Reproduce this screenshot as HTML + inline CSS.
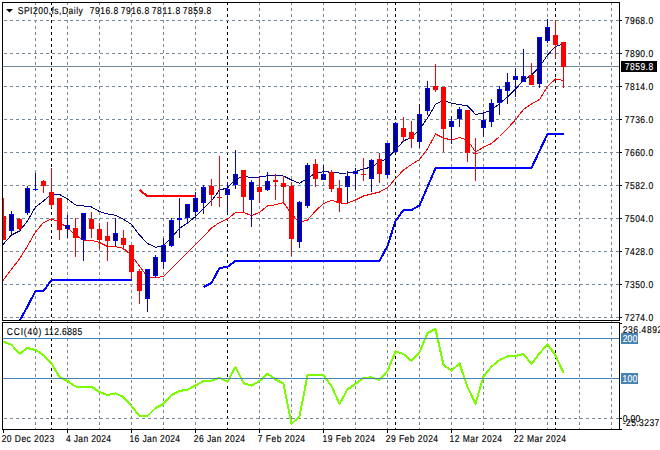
<!DOCTYPE html><html><head><meta charset="utf-8"><style>html,body{margin:0;padding:0;background:#fff;}body{width:660px;height:450px;position:relative;overflow:hidden;}text{white-space:pre;}</style></head><body><svg width="660" height="450" viewBox="0 0 660 450" style="position:absolute;left:0;top:0" shape-rendering="crispEdges">
<defs><clipPath id="cm"><rect x="3" y="3" width="616" height="317"/></clipPath><clipPath id="cv"><rect x="3" y="3" width="616" height="426"/></clipPath><clipPath id="cc"><rect x="3" y="323" width="616" height="106"/></clipPath></defs>
<g clip-path="url(#cv)">
<line x1="35.5" y1="2" x2="35.5" y2="429" stroke="#778899" stroke-width="1" stroke-dasharray="3 3" stroke-dashoffset="0"/>
<line x1="67.5" y1="2" x2="67.5" y2="429" stroke="#778899" stroke-width="1" stroke-dasharray="3 3" stroke-dashoffset="0"/>
<line x1="99.5" y1="2" x2="99.5" y2="429" stroke="#778899" stroke-width="1" stroke-dasharray="3 3" stroke-dashoffset="0"/>
<line x1="131.5" y1="2" x2="131.5" y2="429" stroke="#778899" stroke-width="1" stroke-dasharray="3 3" stroke-dashoffset="0"/>
<line x1="163.5" y1="2" x2="163.5" y2="429" stroke="#778899" stroke-width="1" stroke-dasharray="3 3" stroke-dashoffset="0"/>
<line x1="195.5" y1="2" x2="195.5" y2="429" stroke="#778899" stroke-width="1" stroke-dasharray="3 3" stroke-dashoffset="0"/>
<line x1="259.5" y1="2" x2="259.5" y2="429" stroke="#778899" stroke-width="1" stroke-dasharray="3 3" stroke-dashoffset="0"/>
<line x1="291.5" y1="2" x2="291.5" y2="429" stroke="#778899" stroke-width="1" stroke-dasharray="3 3" stroke-dashoffset="0"/>
<line x1="323.5" y1="2" x2="323.5" y2="429" stroke="#778899" stroke-width="1" stroke-dasharray="3 3" stroke-dashoffset="0"/>
<line x1="355.5" y1="2" x2="355.5" y2="429" stroke="#778899" stroke-width="1" stroke-dasharray="3 3" stroke-dashoffset="0"/>
<line x1="387.5" y1="2" x2="387.5" y2="429" stroke="#778899" stroke-width="1" stroke-dasharray="3 3" stroke-dashoffset="0"/>
<line x1="419.5" y1="2" x2="419.5" y2="429" stroke="#778899" stroke-width="1" stroke-dasharray="3 3" stroke-dashoffset="0"/>
<line x1="451.5" y1="2" x2="451.5" y2="429" stroke="#778899" stroke-width="1" stroke-dasharray="3 3" stroke-dashoffset="0"/>
<line x1="483.5" y1="2" x2="483.5" y2="429" stroke="#778899" stroke-width="1" stroke-dasharray="3 3" stroke-dashoffset="0"/>
<line x1="515.5" y1="2" x2="515.5" y2="429" stroke="#778899" stroke-width="1" stroke-dasharray="3 3" stroke-dashoffset="0"/>
<line x1="547.5" y1="2" x2="547.5" y2="429" stroke="#778899" stroke-width="1" stroke-dasharray="3 3" stroke-dashoffset="0"/>
<line x1="579.5" y1="2" x2="579.5" y2="429" stroke="#778899" stroke-width="1" stroke-dasharray="3 3" stroke-dashoffset="0"/>
<line x1="611.5" y1="2" x2="611.5" y2="429" stroke="#778899" stroke-width="1" stroke-dasharray="3 3" stroke-dashoffset="0"/>
<line x1="51.5" y1="2" x2="51.5" y2="429" stroke="#000" stroke-width="1" stroke-dasharray="3 3" stroke-dashoffset="0"/>
<line x1="227.5" y1="2" x2="227.5" y2="429" stroke="#000" stroke-width="1" stroke-dasharray="3 3" stroke-dashoffset="0"/>
<line x1="395.5" y1="2" x2="395.5" y2="429" stroke="#000" stroke-width="1" stroke-dasharray="3 3" stroke-dashoffset="0"/>
<line x1="555.5" y1="2" x2="555.5" y2="429" stroke="#000" stroke-width="1" stroke-dasharray="3 3" stroke-dashoffset="0"/>
</g>
<g clip-path="url(#cm)">
<line x1="4" y1="20.5" x2="619" y2="20.5" stroke="#778899" stroke-width="1" stroke-dasharray="3 3" stroke-dashoffset="0"/>
<line x1="4" y1="53.5" x2="619" y2="53.5" stroke="#778899" stroke-width="1" stroke-dasharray="3 3" stroke-dashoffset="0"/>
<line x1="4" y1="86.5" x2="619" y2="86.5" stroke="#778899" stroke-width="1" stroke-dasharray="3 3" stroke-dashoffset="0"/>
<line x1="4" y1="119.5" x2="619" y2="119.5" stroke="#778899" stroke-width="1" stroke-dasharray="3 3" stroke-dashoffset="0"/>
<line x1="4" y1="152.5" x2="619" y2="152.5" stroke="#778899" stroke-width="1" stroke-dasharray="3 3" stroke-dashoffset="0"/>
<line x1="4" y1="185.5" x2="619" y2="185.5" stroke="#778899" stroke-width="1" stroke-dasharray="3 3" stroke-dashoffset="0"/>
<line x1="4" y1="218.5" x2="619" y2="218.5" stroke="#778899" stroke-width="1" stroke-dasharray="3 3" stroke-dashoffset="0"/>
<line x1="4" y1="251.5" x2="619" y2="251.5" stroke="#778899" stroke-width="1" stroke-dasharray="3 3" stroke-dashoffset="0"/>
<line x1="4" y1="284.5" x2="619" y2="284.5" stroke="#778899" stroke-width="1" stroke-dasharray="3 3" stroke-dashoffset="0"/>
<line x1="4" y1="317.5" x2="619" y2="317.5" stroke="#778899" stroke-width="1" stroke-dasharray="3 3" stroke-dashoffset="0"/>
<line x1="2" y1="66.5" x2="619" y2="66.5" stroke="#778899" stroke-width="1"/>
</g>
<g clip-path="url(#cc)">
<line x1="4" y1="418.5" x2="619" y2="418.5" stroke="#778899" stroke-width="1" stroke-dasharray="3 3" stroke-dashoffset="0"/>
</g>
<g clip-path="url(#cm)">
<polyline points="-4.5,291.5 3.5,280.0 11.5,269.0 19.5,259.0 27.5,246.0 35.5,232.0 43.5,222.5 51.5,219.0 59.5,222.0 67.5,228.0 75.5,235.0 83.5,240.5 91.5,240.3 99.5,242.5 107.5,246.5 115.5,246.6 123.5,248.3 131.5,255.5 139.5,266.0 147.5,277.0 155.5,278.0 163.5,276.3 171.5,268.4 179.5,260.5 187.5,252.6 195.5,244.5 203.5,236.5 211.5,228.0 219.5,222.5 227.5,219.0 235.5,212.5 243.5,212.3 251.5,215.7 259.5,212.3 267.5,206.0 275.5,204.7 283.5,202.5 291.5,214.0 299.5,222.5 307.5,220.0 315.5,211.0 323.5,203.5 331.5,200.3 339.5,203.0 347.5,203.1 355.5,200.0 363.5,196.0 371.5,194.0 379.5,192.0 387.5,187.8 395.5,178.5 403.5,170.0 411.5,164.5 419.5,159.5 427.5,149.0 435.5,134.0 443.5,138.0 451.5,140.0 459.5,137.5 467.5,140.0 475.5,152.0 483.5,147.3 491.5,143.5 499.5,136.5 507.5,128.5 515.5,119.7 523.5,109.5 531.5,104.0 539.5,99.5 547.5,86.5 555.5,79.0 563.5,80.5" fill="none" stroke="#FF0000" stroke-width="1" stroke-linejoin="round"/>
<polyline points="-4.5,253.5 3.5,244.0 11.5,235.0 19.5,231.0 27.5,221.0 35.5,207.0 43.5,201.0 51.5,194.0 59.5,194.5 67.5,199.0 75.5,205.0 83.5,206.0 91.5,207.0 99.5,211.5 107.5,214.0 115.5,215.3 123.5,219.3 131.5,224.5 139.5,235.0 147.5,243.5 155.5,247.3 163.5,245.5 171.5,237.5 179.5,228.5 187.5,223.0 195.5,216.5 203.5,208.5 211.5,200.8 219.5,190.0 227.5,188.0 235.5,179.0 243.5,176.5 251.5,177.4 259.5,177.0 267.5,175.8 275.5,175.8 283.5,176.0 291.5,180.0 299.5,183.3 307.5,178.4 315.5,173.0 323.5,171.7 331.5,172.2 339.5,173.1 347.5,173.0 355.5,171.5 363.5,169.0 371.5,167.0 379.5,162.0 387.5,158.3 395.5,150.0 403.5,141.0 411.5,137.2 419.5,129.3 427.5,118.0 435.5,104.5 443.5,100.0 451.5,103.3 459.5,104.6 467.5,106.0 475.5,114.3 483.5,113.2 491.5,109.8 499.5,103.6 507.5,97.0 515.5,89.0 523.5,80.5 531.5,75.0 539.5,67.0 547.5,55.0 555.5,46.5 563.5,44.0" fill="none" stroke="#000080" stroke-width="1" stroke-linejoin="round"/>
<polyline points="11.5,340.0 19.5,321.0 27.5,306.5 35.5,291.0 43.5,291.0 51.5,280.0 59.5,280.0 67.5,280.0 75.5,280.0 83.5,280.0 91.5,280.0 99.5,280.0 107.5,280.0 115.5,280.0 123.5,280.0 131.5,280.0" fill="none" stroke="#0000FF" stroke-width="2" stroke-linejoin="round"/>
<polyline points="139.5,190.0 147.5,196.0 155.5,196.0 163.5,196.0 171.5,196.0 179.5,196.0 187.5,196.0 195.5,196.0" fill="none" stroke="#FF0000" stroke-width="2" stroke-linejoin="round"/>
<polyline points="203.5,287.0 211.5,283.0 219.5,268.0 227.5,267.0 235.5,261.0 243.5,261.0 251.5,261.0 259.5,261.0 267.5,261.0 275.5,261.0 283.5,261.0 291.5,261.0 299.5,261.0 307.5,261.0 315.5,261.0 323.5,261.0 331.5,261.0 339.5,261.0 347.5,261.0 355.5,261.0 363.5,261.0 371.5,261.0 379.5,261.0 387.5,246.0 395.5,221.0 403.5,210.0 411.5,210.0 419.5,205.5 427.5,187.0 435.5,168.0 443.5,168.0 451.5,168.0 459.5,168.0 467.5,168.0 475.5,168.0 483.5,168.0 491.5,168.0 499.5,168.0 507.5,168.0 515.5,168.0 523.5,168.0 531.5,168.0 539.5,151.0 547.5,134.0 555.5,134.0 563.5,134.0" fill="none" stroke="#0000FF" stroke-width="2" stroke-linejoin="round"/>
</g>
<g clip-path="url(#cm)">
<rect x="3" y="198" width="1" height="42" fill="#FF0000"/>
<rect x="1" y="216" width="5" height="24" fill="#FF0000"/>
<rect x="11" y="211" width="1" height="23" fill="#0000FF"/>
<rect x="9" y="214" width="5" height="17" fill="#0000FF"/>
<rect x="10" y="215" width="3" height="15" fill="#000080"/>
<rect x="19" y="218" width="1" height="13" fill="#FF0000"/>
<rect x="17" y="219" width="5" height="10" fill="#FF0000"/>
<rect x="27" y="186" width="1" height="29" fill="#0000FF"/>
<rect x="25" y="188" width="5" height="25" fill="#0000FF"/>
<rect x="26" y="189" width="3" height="23" fill="#000080"/>
<rect x="35" y="173" width="1" height="18" fill="#0000FF"/>
<rect x="33" y="189" width="5" height="1" fill="#0000FF"/>
<rect x="43" y="180" width="1" height="13" fill="#FF0000"/>
<rect x="41" y="181" width="5" height="5" fill="#FF0000"/>
<rect x="51" y="168" width="1" height="40" fill="#FF0000"/>
<rect x="49" y="192" width="5" height="13" fill="#FF0000"/>
<rect x="59" y="198" width="1" height="42" fill="#FF0000"/>
<rect x="57" y="198" width="5" height="32" fill="#FF0000"/>
<rect x="67" y="215" width="1" height="23" fill="#0000FF"/>
<rect x="65" y="225" width="5" height="4" fill="#0000FF"/>
<rect x="66" y="226" width="3" height="2" fill="#000080"/>
<rect x="75" y="218" width="1" height="39" fill="#FF0000"/>
<rect x="73" y="228" width="5" height="10" fill="#FF0000"/>
<rect x="83" y="213" width="1" height="48" fill="#0000FF"/>
<rect x="81" y="213" width="5" height="27" fill="#0000FF"/>
<rect x="82" y="214" width="3" height="25" fill="#000080"/>
<rect x="91" y="212" width="1" height="26" fill="#FF0000"/>
<rect x="89" y="219" width="5" height="10" fill="#FF0000"/>
<rect x="99" y="223" width="1" height="26" fill="#FF0000"/>
<rect x="97" y="229" width="5" height="11" fill="#FF0000"/>
<rect x="107" y="222" width="1" height="39" fill="#FF0000"/>
<rect x="105" y="236" width="5" height="5" fill="#FF0000"/>
<rect x="115" y="218" width="1" height="28" fill="#0000FF"/>
<rect x="113" y="233" width="5" height="8" fill="#0000FF"/>
<rect x="114" y="234" width="3" height="6" fill="#000080"/>
<rect x="123" y="230" width="1" height="20" fill="#FF0000"/>
<rect x="121" y="238" width="5" height="7" fill="#FF0000"/>
<rect x="131" y="245" width="1" height="34" fill="#FF0000"/>
<rect x="129" y="245" width="5" height="27" fill="#FF0000"/>
<rect x="139" y="269" width="1" height="35" fill="#FF0000"/>
<rect x="137" y="271" width="5" height="20" fill="#FF0000"/>
<rect x="147" y="269" width="1" height="43" fill="#0000FF"/>
<rect x="145" y="269" width="5" height="30" fill="#0000FF"/>
<rect x="146" y="270" width="3" height="28" fill="#000080"/>
<rect x="155" y="255" width="1" height="23" fill="#0000FF"/>
<rect x="153" y="257" width="5" height="19" fill="#0000FF"/>
<rect x="154" y="258" width="3" height="17" fill="#000080"/>
<rect x="163" y="238" width="1" height="31" fill="#0000FF"/>
<rect x="161" y="245" width="5" height="17" fill="#0000FF"/>
<rect x="162" y="246" width="3" height="15" fill="#000080"/>
<rect x="171" y="218" width="1" height="29" fill="#0000FF"/>
<rect x="169" y="220" width="5" height="26" fill="#0000FF"/>
<rect x="170" y="221" width="3" height="24" fill="#000080"/>
<rect x="179" y="198" width="1" height="40" fill="#0000FF"/>
<rect x="177" y="218" width="5" height="2" fill="#0000FF"/>
<rect x="187" y="204" width="1" height="20" fill="#0000FF"/>
<rect x="185" y="204" width="5" height="14" fill="#0000FF"/>
<rect x="186" y="205" width="3" height="12" fill="#000080"/>
<rect x="195" y="192" width="1" height="26" fill="#0000FF"/>
<rect x="193" y="198" width="5" height="14" fill="#0000FF"/>
<rect x="194" y="199" width="3" height="12" fill="#000080"/>
<rect x="203" y="185" width="1" height="29" fill="#0000FF"/>
<rect x="201" y="187" width="5" height="16" fill="#0000FF"/>
<rect x="202" y="188" width="3" height="14" fill="#000080"/>
<rect x="211" y="179" width="1" height="27" fill="#FF0000"/>
<rect x="209" y="186" width="5" height="9" fill="#FF0000"/>
<rect x="219" y="156" width="1" height="51" fill="#FF0000"/>
<rect x="217" y="197" width="5" height="1" fill="#FF0000"/>
<rect x="227" y="182" width="1" height="31" fill="#0000FF"/>
<rect x="225" y="189" width="5" height="6" fill="#0000FF"/>
<rect x="226" y="190" width="3" height="4" fill="#000080"/>
<rect x="235" y="150" width="1" height="39" fill="#0000FF"/>
<rect x="233" y="174" width="5" height="11" fill="#0000FF"/>
<rect x="234" y="175" width="3" height="9" fill="#000080"/>
<rect x="243" y="170" width="1" height="42" fill="#FF0000"/>
<rect x="241" y="170" width="5" height="27" fill="#FF0000"/>
<rect x="251" y="180" width="1" height="47" fill="#0000FF"/>
<rect x="249" y="182" width="5" height="18" fill="#0000FF"/>
<rect x="250" y="183" width="3" height="16" fill="#000080"/>
<rect x="259" y="177" width="1" height="26" fill="#FF0000"/>
<rect x="257" y="187" width="5" height="5" fill="#FF0000"/>
<rect x="267" y="172" width="1" height="19" fill="#0000FF"/>
<rect x="265" y="181" width="5" height="9" fill="#0000FF"/>
<rect x="266" y="182" width="3" height="7" fill="#000080"/>
<rect x="275" y="174" width="1" height="26" fill="#FF0000"/>
<rect x="273" y="180" width="5" height="2" fill="#FF0000"/>
<rect x="283" y="176" width="1" height="28" fill="#FF0000"/>
<rect x="281" y="183" width="5" height="4" fill="#FF0000"/>
<rect x="291" y="182" width="1" height="74" fill="#FF0000"/>
<rect x="289" y="186" width="5" height="53" fill="#FF0000"/>
<rect x="299" y="201" width="1" height="47" fill="#0000FF"/>
<rect x="297" y="202" width="5" height="40" fill="#0000FF"/>
<rect x="298" y="203" width="3" height="38" fill="#000080"/>
<rect x="307" y="163" width="1" height="45" fill="#0000FF"/>
<rect x="305" y="165" width="5" height="41" fill="#0000FF"/>
<rect x="306" y="166" width="3" height="39" fill="#000080"/>
<rect x="315" y="159" width="1" height="28" fill="#FF0000"/>
<rect x="313" y="164" width="5" height="15" fill="#FF0000"/>
<rect x="323" y="165" width="1" height="15" fill="#0000FF"/>
<rect x="321" y="174" width="5" height="6" fill="#0000FF"/>
<rect x="322" y="175" width="3" height="4" fill="#000080"/>
<rect x="331" y="170" width="1" height="22" fill="#FF0000"/>
<rect x="329" y="172" width="5" height="17" fill="#FF0000"/>
<rect x="339" y="180" width="1" height="32" fill="#FF0000"/>
<rect x="337" y="188" width="5" height="15" fill="#FF0000"/>
<rect x="347" y="171" width="1" height="32" fill="#0000FF"/>
<rect x="345" y="176" width="5" height="11" fill="#0000FF"/>
<rect x="346" y="177" width="3" height="9" fill="#000080"/>
<rect x="355" y="168" width="1" height="22" fill="#0000FF"/>
<rect x="353" y="171" width="5" height="3" fill="#0000FF"/>
<rect x="354" y="172" width="3" height="1" fill="#000080"/>
<rect x="363" y="158" width="1" height="23" fill="#FF0000"/>
<rect x="361" y="174" width="5" height="1" fill="#FF0000"/>
<rect x="371" y="159" width="1" height="33" fill="#0000FF"/>
<rect x="369" y="160" width="5" height="19" fill="#0000FF"/>
<rect x="370" y="161" width="3" height="17" fill="#000080"/>
<rect x="379" y="153" width="1" height="30" fill="#FF0000"/>
<rect x="377" y="159" width="5" height="15" fill="#FF0000"/>
<rect x="387" y="143" width="1" height="35" fill="#0000FF"/>
<rect x="385" y="143" width="5" height="32" fill="#0000FF"/>
<rect x="386" y="144" width="3" height="30" fill="#000080"/>
<rect x="395" y="122" width="1" height="31" fill="#0000FF"/>
<rect x="393" y="123" width="5" height="29" fill="#0000FF"/>
<rect x="394" y="124" width="3" height="27" fill="#000080"/>
<rect x="403" y="117" width="1" height="25" fill="#FF0000"/>
<rect x="401" y="128" width="5" height="9" fill="#FF0000"/>
<rect x="411" y="121" width="1" height="27" fill="#FF0000"/>
<rect x="409" y="132" width="5" height="7" fill="#FF0000"/>
<rect x="419" y="104" width="1" height="44" fill="#0000FF"/>
<rect x="417" y="114" width="5" height="28" fill="#0000FF"/>
<rect x="418" y="115" width="3" height="26" fill="#000080"/>
<rect x="427" y="81" width="1" height="34" fill="#0000FF"/>
<rect x="425" y="88" width="5" height="23" fill="#0000FF"/>
<rect x="426" y="89" width="3" height="21" fill="#000080"/>
<rect x="435" y="64" width="1" height="28" fill="#FF0000"/>
<rect x="433" y="86" width="5" height="4" fill="#FF0000"/>
<rect x="443" y="87" width="1" height="65" fill="#FF0000"/>
<rect x="441" y="87" width="5" height="42" fill="#FF0000"/>
<rect x="451" y="116" width="1" height="28" fill="#0000FF"/>
<rect x="449" y="121" width="5" height="6" fill="#0000FF"/>
<rect x="450" y="122" width="3" height="4" fill="#000080"/>
<rect x="459" y="107" width="1" height="20" fill="#0000FF"/>
<rect x="457" y="109" width="5" height="10" fill="#0000FF"/>
<rect x="458" y="110" width="3" height="8" fill="#000080"/>
<rect x="467" y="110" width="1" height="52" fill="#FF0000"/>
<rect x="465" y="110" width="5" height="43" fill="#FF0000"/>
<rect x="475" y="138" width="1" height="43" fill="#FF0000"/>
<rect x="473" y="153" width="5" height="1" fill="#FF0000"/>
<rect x="483" y="112" width="1" height="25" fill="#0000FF"/>
<rect x="481" y="120" width="5" height="8" fill="#0000FF"/>
<rect x="482" y="121" width="3" height="6" fill="#000080"/>
<rect x="491" y="99" width="1" height="28" fill="#0000FF"/>
<rect x="489" y="103" width="5" height="19" fill="#0000FF"/>
<rect x="490" y="104" width="3" height="17" fill="#000080"/>
<rect x="499" y="86" width="1" height="29" fill="#0000FF"/>
<rect x="497" y="89" width="5" height="14" fill="#0000FF"/>
<rect x="498" y="90" width="3" height="12" fill="#000080"/>
<rect x="507" y="73" width="1" height="31" fill="#0000FF"/>
<rect x="505" y="82" width="5" height="9" fill="#0000FF"/>
<rect x="506" y="83" width="3" height="7" fill="#000080"/>
<rect x="515" y="68" width="1" height="29" fill="#0000FF"/>
<rect x="513" y="76" width="5" height="4" fill="#0000FF"/>
<rect x="514" y="77" width="3" height="2" fill="#000080"/>
<rect x="523" y="49" width="1" height="33" fill="#0000FF"/>
<rect x="521" y="76" width="5" height="6" fill="#0000FF"/>
<rect x="522" y="77" width="3" height="4" fill="#000080"/>
<rect x="531" y="63" width="1" height="22" fill="#FF0000"/>
<rect x="529" y="75" width="5" height="10" fill="#FF0000"/>
<rect x="539" y="37" width="1" height="51" fill="#0000FF"/>
<rect x="537" y="37" width="5" height="47" fill="#0000FF"/>
<rect x="538" y="38" width="3" height="45" fill="#000080"/>
<rect x="547" y="19" width="1" height="24" fill="#0000FF"/>
<rect x="545" y="27" width="5" height="14" fill="#0000FF"/>
<rect x="546" y="28" width="3" height="12" fill="#000080"/>
<rect x="555" y="20" width="1" height="39" fill="#FF0000"/>
<rect x="553" y="35" width="5" height="10" fill="#FF0000"/>
<rect x="563" y="42" width="1" height="46" fill="#FF0000"/>
<rect x="561" y="42" width="5" height="25" fill="#FF0000"/>
</g>
<g clip-path="url(#cc)">
<polyline points="-4.5,339.0 3.5,341.7 11.5,344.8 19.5,354.0 27.5,348.0 35.5,350.0 43.5,355.0 51.5,363.4 59.5,377.0 67.5,381.0 75.5,386.5 83.5,386.7 91.5,386.7 99.5,392.0 107.5,395.0 115.5,393.4 123.5,397.0 131.5,406.0 139.5,416.0 147.5,416.0 155.5,408.0 163.5,404.0 171.5,395.0 179.5,391.0 187.5,389.7 195.5,385.5 203.5,381.0 211.5,380.7 219.5,377.7 227.5,381.7 235.5,366.8 243.5,383.2 251.5,385.6 259.5,381.0 267.5,373.8 275.5,379.4 283.5,383.6 291.5,423.8 299.5,416.5 307.5,375.2 315.5,375.2 323.5,375.3 331.5,386.0 339.5,404.0 347.5,389.3 355.5,384.0 363.5,378.0 371.5,377.3 379.5,380.0 387.5,371.0 395.5,351.5 403.5,354.0 411.5,361.0 419.5,352.3 427.5,333.0 435.5,329.0 443.5,365.0 451.5,370.6 459.5,363.5 467.5,387.0 475.5,403.6 483.5,376.4 491.5,366.7 499.5,360.0 507.5,356.5 515.5,356.0 523.5,354.0 531.5,364.0 539.5,353.5 547.5,344.0 555.5,355.5 563.5,372.7" fill="none" stroke="#7CFC00" stroke-width="2" stroke-linejoin="round"/>
<line x1="2" y1="338.5" x2="619" y2="338.5" stroke="#4682B4" stroke-width="1"/>
<line x1="2" y1="378.5" x2="619" y2="378.5" stroke="#4682B4" stroke-width="1"/>
</g>
<rect x="2.5" y="2.5" width="617" height="318" fill="none" stroke="#000" stroke-width="1"/>
<rect x="2.5" y="322.5" width="617" height="107" fill="none" stroke="#000" stroke-width="1"/>
<line x1="619" y1="20.5" x2="622" y2="20.5" stroke="#000" stroke-width="1"/>
<line x1="619" y1="53.5" x2="622" y2="53.5" stroke="#000" stroke-width="1"/>
<line x1="619" y1="86.5" x2="622" y2="86.5" stroke="#000" stroke-width="1"/>
<line x1="619" y1="119.5" x2="622" y2="119.5" stroke="#000" stroke-width="1"/>
<line x1="619" y1="152.5" x2="622" y2="152.5" stroke="#000" stroke-width="1"/>
<line x1="619" y1="185.5" x2="622" y2="185.5" stroke="#000" stroke-width="1"/>
<line x1="619" y1="218.5" x2="622" y2="218.5" stroke="#000" stroke-width="1"/>
<line x1="619" y1="251.5" x2="622" y2="251.5" stroke="#000" stroke-width="1"/>
<line x1="619" y1="284.5" x2="622" y2="284.5" stroke="#000" stroke-width="1"/>
<line x1="619" y1="317.5" x2="622" y2="317.5" stroke="#000" stroke-width="1"/>
<line x1="619" y1="323.5" x2="622" y2="323.5" stroke="#000" stroke-width="1"/>
<line x1="619" y1="418.5" x2="622" y2="418.5" stroke="#000" stroke-width="1"/>
<line x1="619" y1="429.5" x2="622" y2="429.5" stroke="#000" stroke-width="1"/>
<line x1="3.5" y1="429" x2="3.5" y2="433" stroke="#000" stroke-width="1"/>
<line x1="67.5" y1="429" x2="67.5" y2="433" stroke="#000" stroke-width="1"/>
<line x1="131.5" y1="429" x2="131.5" y2="433" stroke="#000" stroke-width="1"/>
<line x1="195.5" y1="429" x2="195.5" y2="433" stroke="#000" stroke-width="1"/>
<line x1="259.5" y1="429" x2="259.5" y2="433" stroke="#000" stroke-width="1"/>
<line x1="323.5" y1="429" x2="323.5" y2="433" stroke="#000" stroke-width="1"/>
<line x1="387.5" y1="429" x2="387.5" y2="433" stroke="#000" stroke-width="1"/>
<line x1="451.5" y1="429" x2="451.5" y2="433" stroke="#000" stroke-width="1"/>
<line x1="515.5" y1="429" x2="515.5" y2="433" stroke="#000" stroke-width="1"/>
<g font-family='"Liberation Sans", sans-serif' font-size="10px" fill="#000" text-rendering="geometricPrecision" shape-rendering="auto">
<text transform="translate(624.71,0) scale(0.85,1)" x="0" y="24" textLength="33.49" lengthAdjust="spacing" fill="#000" stroke="#000" stroke-width="0.15">7968.0</text>
<text transform="translate(624.71,0) scale(0.85,1)" x="0" y="57" textLength="33.49" lengthAdjust="spacing" fill="#000" stroke="#000" stroke-width="0.15">7890.0</text>
<text transform="translate(624.71,0) scale(0.85,1)" x="0" y="90" textLength="33.49" lengthAdjust="spacing" fill="#000" stroke="#000" stroke-width="0.15">7814.0</text>
<text transform="translate(624.71,0) scale(0.85,1)" x="0" y="123" textLength="33.49" lengthAdjust="spacing" fill="#000" stroke="#000" stroke-width="0.15">7736.0</text>
<text transform="translate(624.71,0) scale(0.85,1)" x="0" y="156" textLength="33.49" lengthAdjust="spacing" fill="#000" stroke="#000" stroke-width="0.15">7660.0</text>
<text transform="translate(624.71,0) scale(0.85,1)" x="0" y="189" textLength="33.49" lengthAdjust="spacing" fill="#000" stroke="#000" stroke-width="0.15">7582.0</text>
<text transform="translate(624.71,0) scale(0.85,1)" x="0" y="222" textLength="33.49" lengthAdjust="spacing" fill="#000" stroke="#000" stroke-width="0.15">7504.0</text>
<text transform="translate(624.71,0) scale(0.85,1)" x="0" y="255" textLength="33.49" lengthAdjust="spacing" fill="#000" stroke="#000" stroke-width="0.15">7428.0</text>
<text transform="translate(624.71,0) scale(0.85,1)" x="0" y="288" textLength="33.49" lengthAdjust="spacing" fill="#000" stroke="#000" stroke-width="0.15">7350.0</text>
<text transform="translate(624.71,0) scale(0.85,1)" x="0" y="321" textLength="33.49" lengthAdjust="spacing" fill="#000" stroke="#000" stroke-width="0.15">7274.0</text>
<rect x="621" y="61" width="36" height="11" fill="#000"/>
<text transform="translate(624.71,0) scale(0.85,1)" x="0" y="70" textLength="33.54" lengthAdjust="spacing" fill="#fff" stroke="#fff" stroke-width="0.15">7859.8</text>
<text transform="translate(622.72,0) scale(0.85,1)" x="0" y="333" textLength="46.54" lengthAdjust="spacing" fill="#000" stroke="#000" stroke-width="0.15">236.4892</text>
<rect x="621" y="333" width="17" height="11" fill="#4682B4"/>
<text transform="translate(622.72,0) scale(0.85,1)" x="0" y="342" textLength="17.01" lengthAdjust="spacing" fill="#fff" stroke="#fff" stroke-width="0.15">200</text>
<rect x="621" y="373" width="17" height="11" fill="#4682B4"/>
<text transform="translate(622.50,0) scale(0.85,1)" x="0" y="382" textLength="17.27" lengthAdjust="spacing" fill="#fff" stroke="#fff" stroke-width="0.15">100</text>
<text transform="translate(622.82,0) scale(0.85,1)" x="0" y="422" textLength="20.43" lengthAdjust="spacing" fill="#000" stroke="#000" stroke-width="0.15">0.00</text>
<text transform="translate(622.77,0) scale(0.85,1)" x="0" y="426" textLength="42.95" lengthAdjust="spacing" fill="#000" stroke="#000" stroke-width="0.15">-25.3237</text>
<text transform="translate(1.72,0) scale(0.85,1)" x="0" y="442" textLength="61.77" lengthAdjust="spacing" fill="#000" stroke="#000" stroke-width="0.15">20 Dec 2023</text>
<text transform="translate(65.95,0) scale(0.85,1)" x="0" y="442" textLength="53.11" lengthAdjust="spacing" fill="#000" stroke="#000" stroke-width="0.15">4 Jan 2024</text>
<text transform="translate(129.50,0) scale(0.85,1)" x="0" y="442" textLength="59.53" lengthAdjust="spacing" fill="#000" stroke="#000" stroke-width="0.15">16 Jan 2024</text>
<text transform="translate(193.72,0) scale(0.85,1)" x="0" y="442" textLength="60.44" lengthAdjust="spacing" fill="#000" stroke="#000" stroke-width="0.15">26 Jan 2024</text>
<text transform="translate(257.71,0) scale(0.85,1)" x="0" y="442" textLength="55.75" lengthAdjust="spacing" fill="#000" stroke="#000" stroke-width="0.15">7 Feb 2024</text>
<text transform="translate(322.50,0) scale(0.85,1)" x="0" y="442" textLength="61.88" lengthAdjust="spacing" fill="#000" stroke="#000" stroke-width="0.15">19 Feb 2024</text>
<text transform="translate(385.72,0) scale(0.85,1)" x="0" y="442" textLength="61.62" lengthAdjust="spacing" fill="#000" stroke="#000" stroke-width="0.15">29 Feb 2024</text>
<text transform="translate(449.50,0) scale(0.85,1)" x="0" y="442" textLength="61.88" lengthAdjust="spacing" fill="#000" stroke="#000" stroke-width="0.15">12 Mar 2024</text>
<text transform="translate(513.72,0) scale(0.85,1)" x="0" y="442" textLength="61.62" lengthAdjust="spacing" fill="#000" stroke="#000" stroke-width="0.15">22 Mar 2024</text>
<path d="M6,9 L13,9 L9.5,12.5 Z" fill="#000"/>
<text transform="translate(17.76,0) scale(0.85,1)" x="0" y="14" textLength="76.59" lengthAdjust="spacing" fill="#000" stroke="#000" stroke-width="0.15">SPI200,fs,Daily</text>
<text transform="translate(89.71,0) scale(0.85,1)" x="0" y="14" textLength="33.54" lengthAdjust="spacing" fill="#000" stroke="#000" stroke-width="0.15">7916.8</text>
<text transform="translate(120.71,0) scale(0.85,1)" x="0" y="14" textLength="33.54" lengthAdjust="spacing" fill="#000" stroke="#000" stroke-width="0.15">7916.8</text>
<text transform="translate(151.71,0) scale(0.85,1)" x="0" y="14" textLength="33.54" lengthAdjust="spacing" fill="#000" stroke="#000" stroke-width="0.15">7811.8</text>
<text transform="translate(182.71,0) scale(0.85,1)" x="0" y="14" textLength="33.54" lengthAdjust="spacing" fill="#000" stroke="#000" stroke-width="0.15">7859.8</text>
<text transform="translate(6.72,0) scale(0.85,1)" x="0" y="335" textLength="40.77" lengthAdjust="spacing" fill="#000" stroke="#000" stroke-width="0.15">CCI(40)</text>
<text transform="translate(44.50,0) scale(0.85,1)" x="0" y="335" textLength="44.36" lengthAdjust="spacing" fill="#000" stroke="#000" stroke-width="0.15">112.6885</text>
</g>
</svg></body></html>
